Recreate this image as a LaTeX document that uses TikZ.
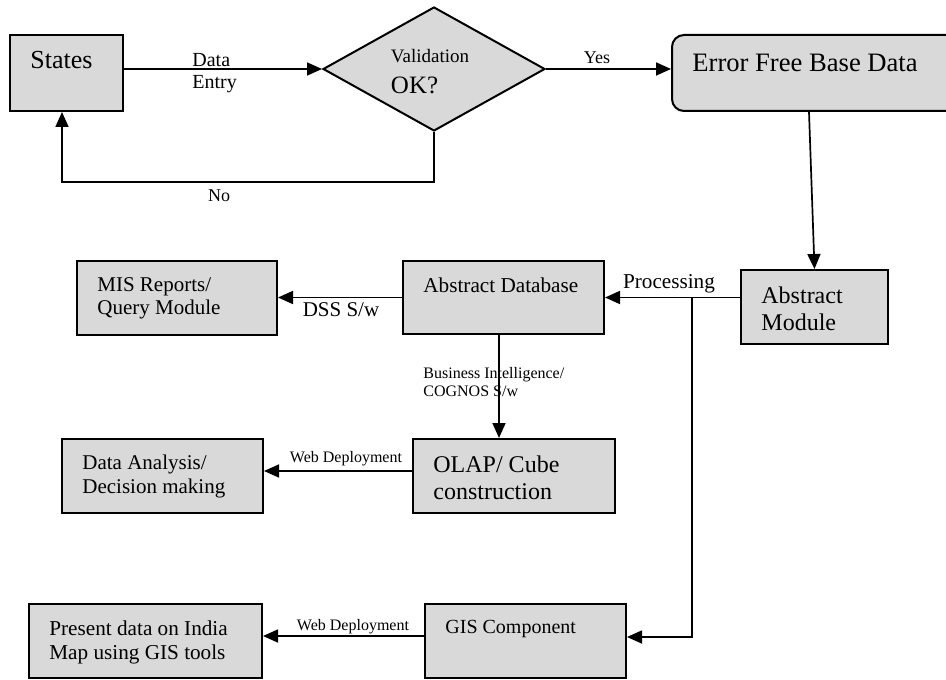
\documentclass[tikz,border=0pt]{standalone}
\usepackage{fontspec}
\setmainfont{Liberation Serif}
\usetikzlibrary{shapes.geometric, arrows.meta}
\definecolor{boxgray}{RGB}{217,217,217}
\begin{document}
\begin{tikzpicture}[x=0.5pt, y=-0.5pt]
\tikzstyle{proc} = [draw, fill=boxgray, line width=1pt, inner sep=0pt]
\tikzstyle{intext} = [anchor=north west, align=left, inner sep=0pt, xshift=10.5pt, yshift=-8.5pt]
\tikzstyle{link} = [line width=0.85pt, -{Triangle[length=7.5pt, width=6.5pt]}]
\tikzstyle{tag} = [inner sep=0pt, align=left]

\useasboundingbox (0,0) rectangle (946,679);

% top row
\node[proc, minimum width=56.5pt, minimum height=38pt,
  label={[intext, font=\fontsize{13}{15}\selectfont]north west:States}] (states) at (66.5,73) {};
\node[proc, diamond, minimum width=111pt, minimum height=62pt,
  label={[tag, anchor=center, xshift=-2pt, yshift=-1.5pt, font=\fontsize{12.5}{15.5}\selectfont]center:{\fontsize{9.5}{11}\selectfont Validation}\\OK?}] (check) at (434,69) {};
\node[proc, rounded corners=6pt, minimum width=143pt, minimum height=38pt,
  label={[intext, yshift=-1.5pt, font=\fontsize{13.3}{16}\selectfont]north west:Error Free Base Data}] (clean) at (815,73) {};

% middle rows
\node[proc, minimum width=73.5pt, minimum height=37pt,
  label={[intext, font=\fontsize{12}{13.5}\selectfont]north west:Abstract\\Module}] (absmod) at (814.5,307) {};
\node[proc, minimum width=100.5pt, minimum height=36.5pt,
  label={[intext, font=\fontsize{10.6}{12}\selectfont]north west:Abstract Database}] (absdb) at (503.5,297.5) {};
\node[proc, minimum width=100pt, minimum height=37pt,
  label={[intext, font=\fontsize{10.5}{11.8}\selectfont]north west:MIS Reports/\\Query Module}] (mis) at (177,298) {};
\node[proc, minimum width=101pt, minimum height=37pt,
  label={[intext, font=\fontsize{12}{13.5}\selectfont]north west:OLAP/ Cube\\construction}] (olap) at (514,476) {};
\node[proc, minimum width=100.5pt, minimum height=37pt,
  label={[intext, font=\fontsize{10.5}{11.8}\selectfont]north west:Data Analysis/\\Decision making}] (analysis) at (162.5,476) {};

% bottom row
\node[proc, minimum width=100.5pt, minimum height=37pt,
  label={[intext, font=\fontsize{10}{12}\selectfont]north west:GIS Component}] (gis) at (525.5,641) {};
\node[proc, minimum width=116.5pt, minimum height=37pt,
  label={[intext, font=\fontsize{10.6}{12}\selectfont]north west:Present data on India\\Map using GIS tools}] (present) at (145.5,641) {};

% connector labels
\node[tag, anchor=north west, font=\fontsize{10}{11}\selectfont] (entry) at (192,53) {Data\\Entry};
\node[tag, font=\fontsize{9}{11}\selectfont] (yes) at (597,58) {Yes};
\node[tag, font=\fontsize{9}{11}\selectfont] (no) at (219,196) {No};
\node[tag, font=\fontsize{10.6}{12}\selectfont] (proc) at (669,284) {Processing};
\node[tag, font=\fontsize{10.5}{12}\selectfont] (dss) at (341,310) {DSS S/w};
\node[tag, anchor=west, font=\fontsize{8}{9}\selectfont] (bitag) at (423,382) {Business Intelligence/\\COGNOS S/w};
\node[tag, font=\fontsize{8}{9}\selectfont] (web1) at (346,459) {Web Deployment};
\node[tag, font=\fontsize{8}{9}\selectfont] (web2) at (353,627) {Web Deployment};

% connectors
\draw[link] (states.east |- check.west) -- (check.west);
\draw[link] (check.south) -- ++(0,50) -| ([xshift=-2.25pt]states.south);
\draw[link] (check.east) -- (check.east -| clean.west);
\draw[link] ([xshift=-3pt]clean.south) -- (absmod.north);
\draw[link] (absmod.west |- absdb.east) -- (absdb.east);
\coordinate (fork) at (692,297.5);
\draw[link] (fork) |- ([yshift=2pt]gis.east);
\draw[link] (absdb.west) -- (absdb.west -| mis.east);
\coordinate (bi) at ([xshift=-2.25pt]absdb.south);
\draw[link] (bi) -- (bi |- olap.north);
\draw[link] ([yshift=2.5pt]olap.west) -- ([yshift=2.5pt]olap.west -| analysis.east);
\draw[link] ([yshift=2.5pt]gis.west) -- ([yshift=2.5pt]gis.west -| present.east);
\end{tikzpicture}
\end{document}
